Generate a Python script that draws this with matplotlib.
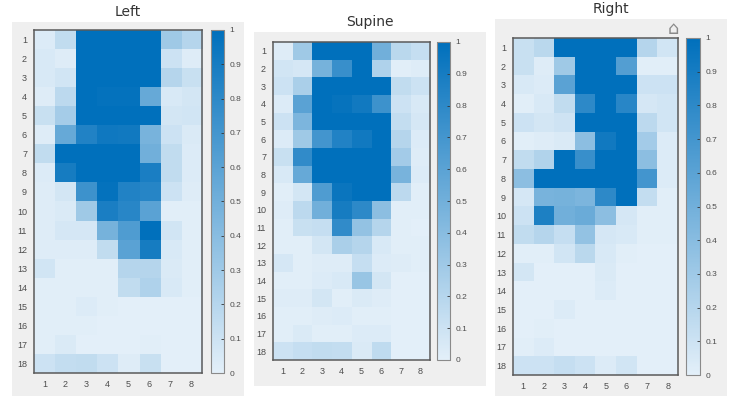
import matplotlib
matplotlib.use("Agg")
import matplotlib.pyplot as plt
import numpy as np
from matplotlib.colors import LinearSegmentedColormap
from matplotlib.patches import Rectangle

W, H = 748, 403

rows = [str(i) for i in range(1, 19)]
cols = [str(i) for i in range(1, 9)]
cbar_ticks = [0, 0.1, 0.2, 0.3, 0.4, 0.5, 0.6, 0.7, 0.8, 0.9, 1]
cbar_labels = ["0", "0.1", "0.2", "0.3", "0.4", "0.5", "0.6", "0.7", "0.8", "0.9", "1"]

left = [
    [.03, .15, 1, 1, 1, 1, .30, .20],
    [.05, .02, 1, 1, 1, 1, .10, .02],
    [.05, .08, 1, 1, 1, 1, .20, .12],
    [.02, .17, 1, .98, .98, .55, .05, .07],
    [.12, .27, 1, 1, 1, 1, .07, .08],
    [.02, .55, .85, .93, .92, .47, .10, .04],
    [.15, 1, 1, 1, 1, .50, .15, .03],
    [.03, .90, 1, 1, 1, .88, .15, .03],
    [.02, .07, .73, .98, .85, .83, .10, .02],
    [.02, .04, .30, .88, .82, .60, .01, .01],
    [.02, .06, .06, .48, .65, 1, .08, .01],
    [.02, .02, .02, .15, .60, .90, .05, .01],
    [.08, .01, .01, .01, .20, .20, .04, .01],
    [.01, .01, .01, .01, .15, .23, .05, .01],
    [.01, .01, .03, .01, 0, 0, 0, 0],
    [.01, .01, .01, 0, 0, 0, 0, 0],
    [.01, .04, 0, 0, 0, .01, 0, 0],
    [.10, .14, .15, .10, .02, .12, 0, 0],
]
supine = [
    [.02, .30, 1, 1, 1, .50, .18, .13],
    [.08, .06, .48, .75, 1, .23, .01, .02],
    [.10, .25, 1, 1, 1, 1, .15, .10],
    [.03, .60, 1, .97, .92, .73, .10, .05],
    [.10, .45, 1, 1, 1, 1, .14, .06],
    [.03, .30, .70, .85, .92, 1, .20, .03],
    [.12, .78, 1, 1, 1, 1, .28, .02],
    [.05, .55, 1, 1, 1, 1, .47, .03],
    [.01, .07, .65, .95, 1, 1, .17, .01],
    [.02, .17, .50, .90, .80, .38, .01, .01],
    [.01, .12, .13, .78, .35, .20, .01, 0],
    [.01, .01, .07, .25, .20, .05, .01, .01],
    [.06, .01, .02, .02, .13, .03, .02, .01],
    [.01, .01, .03, .05, .33, .07, 0, 0],
    [.02, .02, .07, .01, .04, .02, 0, 0],
    [.01, .01, .02, .03, .01, .01, 0, 0],
    [.01, .04, .01, .01, .03, .03, 0, 0],
    [.10, .13, .15, .14, .04, .16, 0, 0],
]
right = [
    [.12, .18, 1, 1, 1, 1, .20, .08],
    [.12, .02, .30, 1, 1, .63, .01, .01],
    [.05, .03, .60, 1, 1, 1, .10, .10],
    [.01, .05, .15, .80, 1, .82, .06, .08],
    [.10, .07, .09, 1, 1, 1, .17, .08],
    [.01, .02, .04, .38, .92, 1, .28, .03],
    [.15, .22, 1, .75, 1, 1, .38, .03],
    [.38, 1, 1, 1, 1, 1, .70, .03],
    [.06, .47, .48, .45, .80, 1, .14, .01],
    [.10, .87, .50, .53, .38, .06, .01, .01],
    [.15, .20, .13, .35, .06, .05, .01, .01],
    [.01, .01, .08, .18, .05, .01, 0, 0],
    [.07, 0, 0, 0, .04, 0, 0, 0],
    [0, 0, 0, 0, .03, 0, 0, 0],
    [0, 0, .03, 0, 0, 0, 0, 0],
    [0, .01, 0, 0, 0, 0, 0, 0],
    [.01, .03, 0, 0, 0, 0, 0, 0],
    [.10, .10, .13, .10, .03, .08, 0, 0],
]

cmap = LinearSegmentedColormap.from_list("blues", ["#e3eff9", "#0070bc"])
GRAY = "#efefef"
TICK = "#4d4d4d"
EDGE = "#5a5a5a"


def px_rect(x0, y0, x1, y1):
    # pixel box (top left origin) to figure fractions
    return [x0 / W, 1 - y1 / H, (x1 - x0) / W, (y1 - y0) / H]


def draw_panel(fig, data, title, title_xy, panel, heat, cbar):
    r = px_rect(*panel)
    fig.patches.append(Rectangle((r[0], r[1]), r[2], r[3], transform=fig.transFigure,
                                 facecolor=GRAY, edgecolor="none", zorder=-5))
    fig.text(title_xy[0] / W, 1 - title_xy[1] / H, title, ha="center", va="center",
             fontsize=10, color="#333333")

    ax = fig.add_axes(px_rect(*heat))
    im = ax.imshow(np.array(data), cmap=cmap, vmin=0, vmax=1, aspect="auto",
                   interpolation="nearest")
    ax.set_xticks(range(len(cols)), cols)
    ax.set_yticks(range(len(rows)), rows)
    ax.tick_params(length=0, labelsize=6.5, labelcolor=TICK, pad=5,
                   labelfontfamily="Liberation Sans")
    for s in ax.spines.values():
        s.set_color(EDGE)
        s.set_linewidth(1.1)

    cax = fig.add_axes(px_rect(*cbar))
    cb = fig.colorbar(im, cax=cax)
    cb.set_ticks(cbar_ticks, labels=cbar_labels)
    cax.tick_params(direction="in", length=2, width=0.6, color="#333333", labelsize=6,
                    labelcolor=TICK, pad=4, labelfontfamily="Liberation Sans")
    cb.outline.set_edgecolor("#8a8a8a")
    cb.outline.set_linewidth(0.8)


fig = plt.figure(figsize=(W / 100, H / 100), dpi=100, facecolor="white")

draw_panel(fig, left, "Left", (128, 12), (12, 22, 244, 396), (34, 30, 202, 373), (211, 30, 224, 373))
draw_panel(fig, supine, "Supine", (370, 22), (254, 32, 486, 386), (273, 42, 430, 360), (437, 42, 450, 360))
draw_panel(fig, right, "Right", (611, 9), (495, 19, 727, 396), (513, 38, 678, 375), (686, 38, 700, 375))

# toolbar home icon above the right panel
fig.text(673.5 / W, 1 - 29.5 / H, "\u2302", ha="center", va="center", fontsize=13, color="#8a8a8a")

fig.savefig("out.png", dpi=100)
